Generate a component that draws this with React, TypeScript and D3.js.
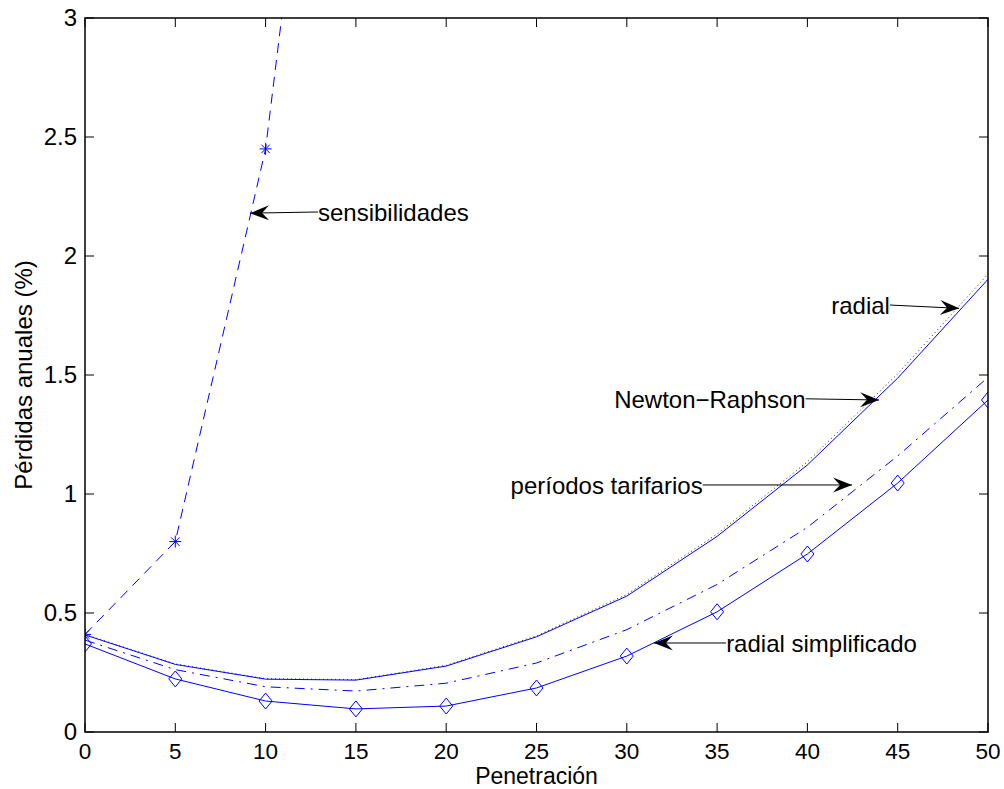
import React from "react";
import * as d3 from "d3";

const penetracion = [0, 5, 10, 15, 20, 25, 30, 35, 40, 45, 50];
const sensX = [0, 5, 10, 15];
const sensibilidades = [0.41, 0.8, 2.45, 5.55];
const radial = [0.408, 0.284, 0.222, 0.218, 0.277, 0.4, 0.571, 0.822, 1.122, 1.487, 1.902];
const newtonRaphson = [0.41, 0.286, 0.224, 0.22, 0.28, 0.404, 0.578, 0.832, 1.135, 1.505, 1.924];
const periodosTarifarios = [0.386, 0.262, 0.19, 0.172, 0.205, 0.29, 0.43, 0.62, 0.86, 1.16, 1.49];
const radialSimplificado = [0.37, 0.223, 0.13, 0.097, 0.109, 0.185, 0.319, 0.505, 0.748, 1.046, 1.395];
const xTicks = [0, 5, 10, 15, 20, 25, 30, 35, 40, 45, 50];
const yTicks = [0, 0.5, 1, 1.5, 2, 2.5, 3];
const yTickLabels = ["0", "0.5", "1", "1.5", "2", "2.5", "3"];

const annotations = [
  { text: "sensibilidades", tx: 12.9, ty: 2.185, hx: 9.14, hy: 2.18 },
  { text: "radial", tx: 44.57, ty: 1.794, hx: 48.4, hy: 1.78 },
  { text: "Newton\u2212Raphson", tx: 39.9, ty: 1.4, hx: 43.97, hy: 1.395 },
  { text: "períodos tarifarios", tx: 34.2, ty: 1.038, hx: 42.47, hy: 1.038 },
  { text: "radial simplificado", tx: 35.5, ty: 0.374, hx: 31.5, hy: 0.374 },
];

const W = 1004, H = 789;
const L = 85, R = 988, T = 18, B = 732;
const FONT = "'Liberation Sans', Arial, Helvetica, sans-serif";
const FS = 24;
const BLUE = "#0000ff";

export default function App() {
  const x = d3.scaleLinear().domain([0, 50]).range([L, R]);
  const y = d3.scaleLinear().domain([0, 3]).range([B, T]);
  const line = (xs: number[], ys: number[]) =>
    d3.line<number>().x((_, i) => x(xs[i])).y((d) => y(d))(ys) || "";

  const asterisk = (cx: number, cy: number, k: string) => {
    const r = 6;
    const a = r * 0.707;
    return (
      <g key={k} stroke={BLUE} strokeWidth={1}>
        <line x1={cx - r} y1={cy} x2={cx + r} y2={cy} />
        <line x1={cx} y1={cy - r} x2={cx} y2={cy + r} />
        <line x1={cx - a} y1={cy - a} x2={cx + a} y2={cy + a} />
        <line x1={cx - a} y1={cy + a} x2={cx + a} y2={cy - a} />
      </g>
    );
  };
  const diamond = (cx: number, cy: number, k: string) => {
    const w = 6.5, h = 8;
    return (
      <path
        key={k}
        d={`M${cx},${cy - h}L${cx + w},${cy}L${cx},${cy + h}L${cx - w},${cy}Z`}
        fill="none"
        stroke={BLUE}
        strokeWidth={1}
      />
    );
  };
  const arrowHead = (hx: number, hy: number, tx: number, ty: number, k: string) => {
    const ang = Math.atan2(hy - ty, hx - tx);
    const len = 19, wid = 7.5, back = 12;
    const c = Math.cos(ang), s = Math.sin(ang);
    const p = (u: number, v: number) => `${hx + u * c - v * s},${hy + u * s + v * c}`;
    return (
      <path key={k} d={`M${p(0, 0)}L${p(-len, -wid)}L${p(-back, 0)}L${p(-len, wid)}Z`} fill="#000" stroke="none" />
    );
  };

  return (
    <svg width={W} height={H} style={{ position: "absolute", left: 0, top: 0, background: "#fff" }}>
      <defs>
        <clipPath id="plotclip">
          <rect x={L} y={T} width={R - L} height={B - T} />
        </clipPath>
      </defs>
      <rect x={0} y={0} width={W} height={H} fill="#fff" />
      {xTicks.map((t) => (
        <g key={"xt" + t} stroke="#000" strokeWidth={1}>
          <line x1={x(t)} y1={B} x2={x(t)} y2={B - 9} />
          <line x1={x(t)} y1={T} x2={x(t)} y2={T + 9} />
        </g>
      ))}
      {yTicks.map((t) => (
        <g key={"yt" + t} stroke="#000" strokeWidth={1}>
          <line x1={L} y1={y(t)} x2={L + 9} y2={y(t)} />
          <line x1={R} y1={y(t)} x2={R - 9} y2={y(t)} />
        </g>
      ))}
      <g clipPath="url(#plotclip)" fill="none">
        <path d={line(sensX, sensibilidades)} stroke={BLUE} strokeWidth={1} strokeDasharray="10,7" />
        <path d={line(penetracion, newtonRaphson)} stroke="#222" strokeWidth={1} strokeDasharray="1,3" />
        <path d={line(penetracion, radial)} stroke={BLUE} strokeWidth={1} />
        <path d={line(penetracion, periodosTarifarios)} stroke={BLUE} strokeWidth={1} strokeDasharray="10,6,2,6" />
        <path d={line(penetracion, radialSimplificado)} stroke={BLUE} strokeWidth={1} />
        {sensX.map((v, i) => asterisk(x(v), y(sensibilidades[i]), "a" + i))}
        {penetracion.map((v, i) => diamond(x(v), y(radialSimplificado[i]), "d" + i))}
      </g>
      <rect x={L} y={T} width={R - L} height={B - T} fill="none" stroke="#000" strokeWidth={1.5} />
      {xTicks.map((t) => (
        <text key={"xl" + t} x={x(t)} y={B + 27} textAnchor="middle" fontFamily={FONT} fontSize={22.5} fill="#000">
          {t}
        </text>
      ))}
      {yTicks.map((t, i) => (
        <text key={"yl" + t} x={L - 8} y={y(t)} dy="0.35em" textAnchor="end" fontFamily={FONT} fontSize={FS} fill="#000">
          {yTickLabels[i]}
        </text>
      ))}
      <text x={(L + R) / 2} y={784} textAnchor="middle" fontFamily={FONT} fontSize={23} fill="#000">
        Penetración
      </text>
      <text
        transform={`translate(32,${(T + B) / 2}) rotate(-90)`}
        textAnchor="middle"
        fontFamily={FONT}
        fontSize={FS}
        fill="#000"
      >
        Pérdidas anuales (%)
      </text>
      {annotations.map((a, i) => {
        const tx = x(a.tx), ty = y(a.ty), hx = x(a.hx), hy = y(a.hy);
        const right = hx > tx;
        return (
          <g key={"an" + i}>
            <line x1={tx} y1={ty} x2={hx} y2={hy} stroke="#000" strokeWidth={1} />
            {arrowHead(hx, hy, tx, ty, "ah" + i)}
            <text
              x={tx}
              y={ty}
              dy="0.38em"
              textAnchor={right ? "end" : "start"}
              fontFamily={FONT}
              fontSize={FS}
              fill="#000"
            >
              {a.text}
            </text>
          </g>
        );
      })}
    </svg>
  );
}
